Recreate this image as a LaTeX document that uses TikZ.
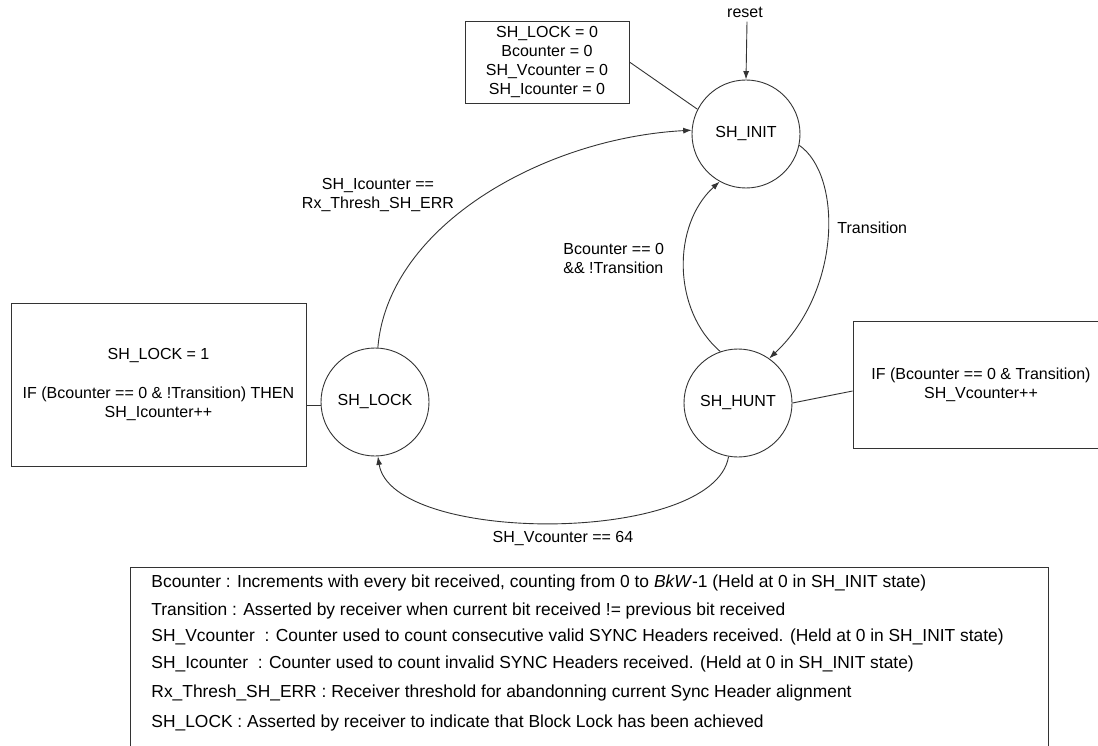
\documentclass[tikz,border=0pt]{standalone}
\usepackage{fontspec}
\setmainfont{Liberation Sans}
\usetikzlibrary{arrows.meta}
\begin{document}
\begin{tikzpicture}[x=1pt,y=-1pt,
  line width=0.9pt,
  state/.style={circle,draw=black!80,minimum size=108pt,inner sep=0pt,font=\fontsize{16}{19}\selectfont},
  infobox/.style={rectangle,draw=black!80,inner sep=0pt,align=center,font=\fontsize{16}{19}\selectfont},
  lbl/.style={inner sep=0pt,font=\fontsize{16}{19}\selectfont},
  legtext/.style={anchor=west,inner sep=0pt,font=\fontsize{17.4}{20}\selectfont},
  tr/.style={draw=black!80,-{Latex[length=8.5pt,width=6pt]}},
  link/.style={draw=black!80}]
\useasboundingbox (0,0) rectangle (1098,746);
\clip (0,0) rectangle (1098,746);

% states
\node[state] (init) at (746,134) {SH\_INIT};
\node[state] (lock) at (375,402) {SH\_LOCK};
\node[state] (hunt) at (738,403) {SH\_HUNT};

% reset
\node[lbl] (reset) at (745,12) {reset};
\draw[tr] (reset.south) ++(2,4) coordinate (rs) (rs) -- (init.north);

% info boxes
\node[infobox,minimum width=164pt,minimum height=82pt] (topbox) at (547,62)
  {SH\_LOCK = 0\\Bcounter = 0\\SH\_Vcounter = 0\\SH\_Icounter = 0};
\node[infobox,minimum width=295pt,minimum height=163pt,font=\fontsize{16}{19.5}\selectfont] (lockbox) at (158.5,384.5)
  {SH\_LOCK = 1\\[19.5pt]IF (Bcounter == 0 \& !Transition) THEN\\SH\_Icounter++};
\node[infobox,minimum width=256pt,minimum height=127pt] (huntbox) at (981,384.5)
  {IF (Bcounter == 0 \& Transition)\\SH\_Vcounter++};

\draw[link] (topbox.east) -- (init.153);
\draw[link] (lock.184) -- (lock.184 -| lockbox.east);
\draw[link] (hunt.east) -- ([yshift=-6.5pt]huntbox.west);

% transitions
\draw[tr] (lock.87) .. controls (388,225) and (545,138) .. (init.176);
\draw[tr] (init.-12) .. controls (842,175) and (842,290) .. (hunt.55);
\draw[tr] (hunt.109) .. controls (672,310) and (672,225) .. (init.241);
\draw[tr] (hunt.-100) .. controls (714,545) and (392,545) .. (lock.-87);

% transition labels
\node[lbl,align=center] (l1) at (378,195) {SH\_Icounter ==\\Rx\_Thresh\_SH\_ERR};
\node[lbl,anchor=west] (l2) at (837,228) {Transition};
\node[lbl,align=left,anchor=west] (l3) at (563,258) {Bcounter == 0\\\&\& !Transition};
\node[lbl] (l4) at (563,539) {SH\_Vcounter == 64};

% legend
\node[draw=black!80,rectangle,minimum width=918pt,minimum height=200pt,anchor=north west,inner sep=0pt] (legend) at (130,567) {};
\node[legtext] (g1) at (151,583) {Bcounter : Increments with every bit received, counting from 0 to \textit{BkW}-1 (Held at 0 in SH\_INIT state)};
\node[legtext] (g2) at (151,611) {Transition : Asserted by receiver when current bit received != previous bit received};
\node[legtext] (g3) at (151,637) {SH\_Vcounter~ : Counter used to count consecutive valid SYNC Headers received. (Held at 0 in SH\_INIT state)};
\node[legtext] (g4) at (151,664) {SH\_Icounter~ : Counter used to count invalid SYNC Headers received. (Held at 0 in SH\_INIT state)};
\node[legtext] (g5) at (151,693) {Rx\_Thresh\_SH\_ERR : Receiver threshold for abandonning current Sync Header alignment};
\node[legtext] (g6) at (151,723) {SH\_LOCK : Asserted by receiver to indicate that Block Lock has been achieved};
\end{tikzpicture}
\end{document}
